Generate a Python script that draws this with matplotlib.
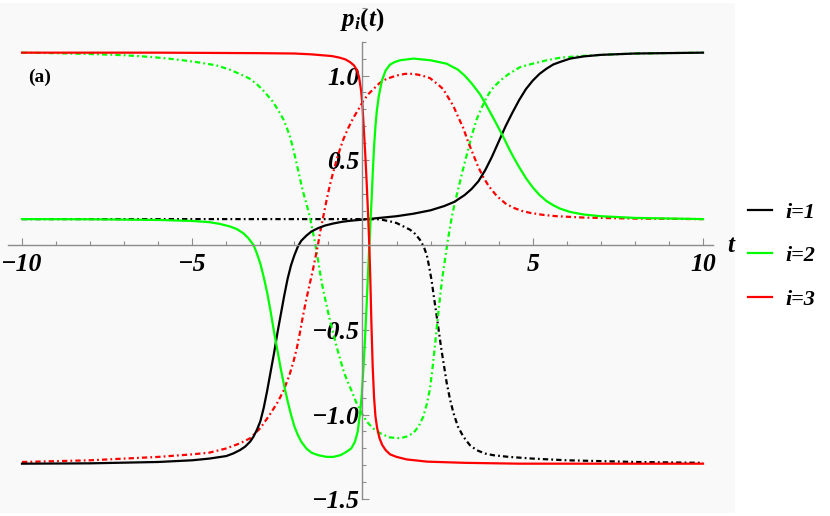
import matplotlib
matplotlib.use('Agg')
import matplotlib.pyplot as plt
from matplotlib.ticker import FixedLocator, MultipleLocator

plt.rcParams['mathtext.fontset'] = 'custom'
plt.rcParams['mathtext.it'] = 'Liberation Serif:italic:bold'
plt.rcParams['mathtext.rm'] = 'Liberation Serif:bold'
plt.rcParams['mathtext.bf'] = 'Liberation Serif:bold'

# i=1, solid
t_1 = [-10, -8, -6, -5, -4.5, -4.0, -3.8, -3.6, -3.45, -3.3, -3.2, -3.1, -3.0, -2.9, -2.8, -2.7,
       -2.6, -2.5, -2.4, -2.3, -2.2, -2.1, -2.0, -1.9, -1.8, -1.65, -1.5, -1.3, -1.1, -0.86, -0.6,
       -0.37, 0, 0.5, 1.0, 1.5, 2.0, 2.4, 2.7, 3.0, 3.2, 3.4, 3.6, 3.8, 4.0, 4.2, 4.4, 4.6, 4.8,
       5.0, 5.2, 5.4, 5.6, 5.8, 6.1, 6.5, 7, 8, 10]
p_1 = [-1.29, -1.288, -1.28, -1.27, -1.26, -1.245, -1.23, -1.21, -1.19, -1.16, -1.13, -1.09, -1.04,
       -0.96, -0.86, -0.75, -0.64, -0.52, -0.41, -0.30, -0.2, -0.12, -0.06, -0.01, 0.025, 0.055,
       0.08, 0.1, 0.115, 0.127, 0.137, 0.143, 0.15, 0.16, 0.17, 0.185, 0.205, 0.23, 0.255, 0.295,
       0.33, 0.375, 0.44, 0.52, 0.61, 0.7, 0.78, 0.855, 0.92, 0.97, 1.01, 1.04, 1.065, 1.08, 1.1,
       1.113, 1.122, 1.13, 1.135]

# i=1, dot-dashed
t_1d = [-10, -5, 0, 0.5, 0.8, 1.0, 1.2, 1.4, 1.55, 1.69, 1.8, 1.89, 1.96, 2.03, 2.1, 2.18, 2.25,
        2.32, 2.4, 2.47, 2.57, 2.67, 2.8, 2.96, 3.15, 3.35, 3.6, 3.84, 4.3, 5, 6, 8, 10]
p_1d = [0.153, 0.153, 0.153, 0.152, 0.14, 0.13, 0.11, 0.09, 0.065, 0.03, -0.01, -0.06, -0.13,
        -0.21, -0.31, -0.42, -0.52, -0.62, -0.72, -0.81, -0.91, -0.99, -1.07, -1.13, -1.18, -1.21,
        -1.23, -1.24, -1.25, -1.26, -1.27, -1.28, -1.285]

# i=2, solid
t_2 = [-10, -8, -6, -5, -4.5, -4.2, -3.9, -3.7, -3.5, -3.35, -3.2, -3.1, -3.0, -2.9, -2.8, -2.7,
       -2.6, -2.5, -2.4, -2.3, -2.2, -2.1, -2.0, -1.9, -1.8, -1.65, -1.5, -1.3, -1.05, -0.86,
       -0.65, -0.47, -0.33, -0.22, -0.14, -0.07, -0.02, 0.02, 0.07, 0.12, 0.16, 0.2, 0.24, 0.27,
       0.3, 0.34, 0.38, 0.42, 0.48, 0.57, 0.68, 0.81, 0.95, 1.1, 1.5, 2.0, 2.47, 2.8, 3.0, 3.2,
       3.45, 3.65, 3.84, 4.0, 4.13, 4.3, 4.43, 4.6, 4.8, 5.0, 5.2, 5.4, 5.6, 5.8, 6.1, 6.5, 7,
       8, 10]
p_2 = [0.153, 0.152, 0.148, 0.142, 0.135, 0.125, 0.11, 0.095, 0.07, 0.04, 0.0, -0.05, -0.11,
       -0.19, -0.28, -0.39, -0.51, -0.62, -0.73, -0.83, -0.92, -1.0, -1.07, -1.12, -1.16, -1.2,
       -1.225, -1.24, -1.25, -1.25, -1.24, -1.22, -1.2, -1.16, -1.1, -0.99, -0.88, -0.75, -0.57,
       -0.36, -0.18, 0.0, 0.16, 0.28, 0.42, 0.58, 0.7, 0.79, 0.88, 0.97, 1.03, 1.065, 1.08, 1.09,
       1.1, 1.09, 1.07, 1.035, 1.0, 0.955, 0.89, 0.82, 0.75, 0.69, 0.64, 0.57, 0.52, 0.46, 0.395,
       0.34, 0.295, 0.26, 0.235, 0.215, 0.195, 0.18, 0.17, 0.16, 0.153]

# i=2, dot-dashed
t_2d = [-10, -9, -8, -7, -6.24, -5.7, -5.27, -4.8, -4.29, -3.9, -3.5, -3.3, -3.11, -2.95, -2.82,
        -2.65, -2.52, -2.4, -2.32, -2.22, -2.13, -2.05, -1.98, -1.9, -1.8, -1.74, -1.64, -1.54,
        -1.46, -1.39, -1.32, -1.25, -1.15, -1.05, -0.95, -0.86, -0.76, -0.66, -0.56, -0.47, -0.3,
        -0.18, 0.0, 0.12, 0.3, 0.51, 0.8, 1.1, 1.3, 1.49, 1.65, 1.79, 1.9, 1.98, 2.06, 2.13, 2.2,
        2.27, 2.34, 2.42, 2.5, 2.6, 2.7, 2.8, 2.93, 3.06, 3.2, 3.35, 3.5, 3.64, 3.8, 4.04, 4.3,
        4.63, 5.0, 5.41, 5.8, 6.4, 7, 8, 10]
p_2d = [1.135, 1.132, 1.127, 1.12, 1.11, 1.1, 1.09, 1.077, 1.06, 1.035, 1.0, 0.98, 0.95, 0.92,
        0.89, 0.85, 0.81, 0.77, 0.74, 0.69, 0.64, 0.58, 0.52, 0.45, 0.36, 0.31, 0.24, 0.16, 0.08,
        0.01, -0.07, -0.16, -0.27, -0.36, -0.45, -0.52, -0.6, -0.67, -0.74, -0.79, -0.87, -0.93,
        -1.0, -1.04, -1.08, -1.11, -1.135, -1.14, -1.13, -1.11, -1.07, -1.01, -0.93, -0.85, -0.72,
        -0.59, -0.45, -0.32, -0.2, -0.09, 0.02, 0.14, 0.24, 0.32, 0.43, 0.53, 0.64, 0.74, 0.81,
        0.87, 0.92, 0.97, 1.01, 1.05, 1.07, 1.09, 1.105, 1.115, 1.122, 1.13, 1.135]

# i=3, solid
t_3 = [-10, -6, -3, -2, -1.5, -1.2, -0.9, -0.66, -0.5, -0.37, -0.25, -0.16, -0.1, -0.04, 0.0, 0.04,
       0.08, 0.12, 0.16, 0.2, 0.23, 0.26, 0.3, 0.34, 0.38, 0.43, 0.5, 0.58, 0.68, 0.81, 1.0, 1.3,
       1.9, 3, 4.6, 10]
p_3 = [1.135, 1.135, 1.132, 1.13, 1.125, 1.12, 1.115, 1.105, 1.095, 1.08, 1.06, 1.03, 0.99, 0.91,
       0.82, 0.68, 0.54, 0.38, 0.2, 0.0, -0.2, -0.45, -0.72, -0.9, -1.01, -1.08, -1.14, -1.18,
       -1.21, -1.235, -1.25, -1.265, -1.278, -1.285, -1.29, -1.29]

# i=3, dot-dashed
t_3d = [-10, -9, -8, -7, -6, -5, -4.5, -4, -3.6, -3.3, -3.0, -2.72, -2.5, -2.32, -2.15, -2.03,
        -1.93, -1.84, -1.75, -1.65, -1.55, -1.45, -1.37, -1.3, -1.25, -1.15, -1.05, -0.95, -0.86,
        -0.72, -0.57, -0.42, -0.27, -0.12, 0.02, 0.17, 0.32, 0.5, 0.7, 1.0, 1.25, 1.5, 1.75, 1.98,
        2.2, 2.37, 2.52, 2.67, 2.8, 2.96, 3.1, 3.26, 3.4, 3.55, 3.7, 3.94, 4.2, 4.43, 4.7, 4.92,
        5.3, 5.7, 6.5, 8, 10]
p_3d = [-1.28, -1.275, -1.27, -1.26, -1.25, -1.235, -1.225, -1.2, -1.17, -1.14, -1.08, -1.0,
        -0.93, -0.86, -0.77, -0.69, -0.61, -0.52, -0.42, -0.32, -0.23, -0.14, -0.06, 0.01, 0.07,
        0.17, 0.27, 0.36, 0.43, 0.53, 0.62, 0.69, 0.75, 0.8, 0.85, 0.89, 0.92, 0.955, 0.98, 1.0,
        1.01, 1.01, 1.0, 0.985, 0.95, 0.92, 0.87, 0.82, 0.76, 0.69, 0.61, 0.53, 0.46, 0.4, 0.35,
        0.29, 0.245, 0.22, 0.2, 0.19, 0.178, 0.17, 0.162, 0.156, 0.153]

labels = ['i=1', 'i=2', 'i=3']
colors = ['black', '#00ff00', '#ff0000']

x_major = [-10, -5, 5, 10]
y_major = [-1.5, -1.0, -0.5, 0.5, 1.0]

tick_font = {'family': 'Liberation Serif', 'weight': 'bold', 'style': 'italic', 'size': 18.5}
dd = (0, (2.4, 1.4, 0.8, 1.4))
lw = 1.6

fig = plt.figure(figsize=(8.3, 5.16), dpi=100)
ax = fig.add_axes([0, 3 / 516, 735 / 830, 510 / 516])
ax.set_facecolor('#f9f9f9')

ax.plot(t_1d, p_1d, color=colors[0], lw=lw, ls=dd)
ax.plot(t_2d, p_2d, color=colors[1], lw=lw, ls=dd)
ax.plot(t_3d, p_3d, color=colors[2], lw=lw, ls=dd)
ax.plot(t_1, p_1, color=colors[0], lw=lw, label=labels[0])
ax.plot(t_2, p_2, color=colors[1], lw=lw, label=labels[1])
ax.plot(t_3, p_3, color=colors[2], lw=lw, label=labels[2])

ax.set_xlim(-10.646, 10.94)
ax.set_ylim(-1.581, 1.428)

for s in ['top', 'right']:
    ax.spines[s].set_visible(False)
ax.spines['left'].set_position(('data', 0))
ax.spines['bottom'].set_position(('data', 0))
ax.spines['left'].set_bounds(-1.5, 1.2)
ax.spines['bottom'].set_bounds(-10.4, 10.3)
for s in ['left', 'bottom']:
    ax.spines[s].set_color('#8c8c8c')
    ax.spines[s].set_linewidth(1.0)

ax.xaxis.set_major_locator(FixedLocator(x_major))
ax.xaxis.set_minor_locator(MultipleLocator(1))
ax.yaxis.set_major_locator(FixedLocator(y_major))
ax.yaxis.set_minor_locator(MultipleLocator(0.1))
ax.set_xticklabels([f'{v:d}'.replace('-', '\u2212') for v in x_major], fontdict=tick_font)
ax.set_yticklabels([f'{v:.1f}'.replace('-', '\u2212') for v in y_major], fontdict=tick_font)
ax.tick_params(which='major', direction='in', length=5, width=0.8, color='#8c8c8c')
ax.tick_params(which='minor', direction='in', length=3.2, width=0.8, color='#8c8c8c')
ax.tick_params(axis='x', which='major', pad=6)
ax.tick_params(axis='y', which='major', pad=2)

fig.text(362 / 830, 1 - 20 / 516, r'$p_i(t)$', ha='center', va='center', fontsize=18)
fig.text(731 / 830, 1 - 246 / 516, 't', ha='center', va='center',
         family='Liberation Serif', weight='bold', style='italic', fontsize=18)
fig.text(40 / 830, 1 - 77 / 516, '(a)', ha='center', va='center',
         family='Liberation Serif', weight='bold', fontsize=14)

leg = fig.legend(loc='upper left', bbox_to_anchor=(748 / 830, 1 - 202 / 516), frameon=False,
                 borderpad=0, borderaxespad=0,
                 handlelength=1.08, handletextpad=0.59, labelspacing=1.04,
                 prop={'family': 'Liberation Serif', 'weight': 'bold', 'style': 'italic', 'size': 16})

fig.savefig('out.png', dpi=100, facecolor='white')
